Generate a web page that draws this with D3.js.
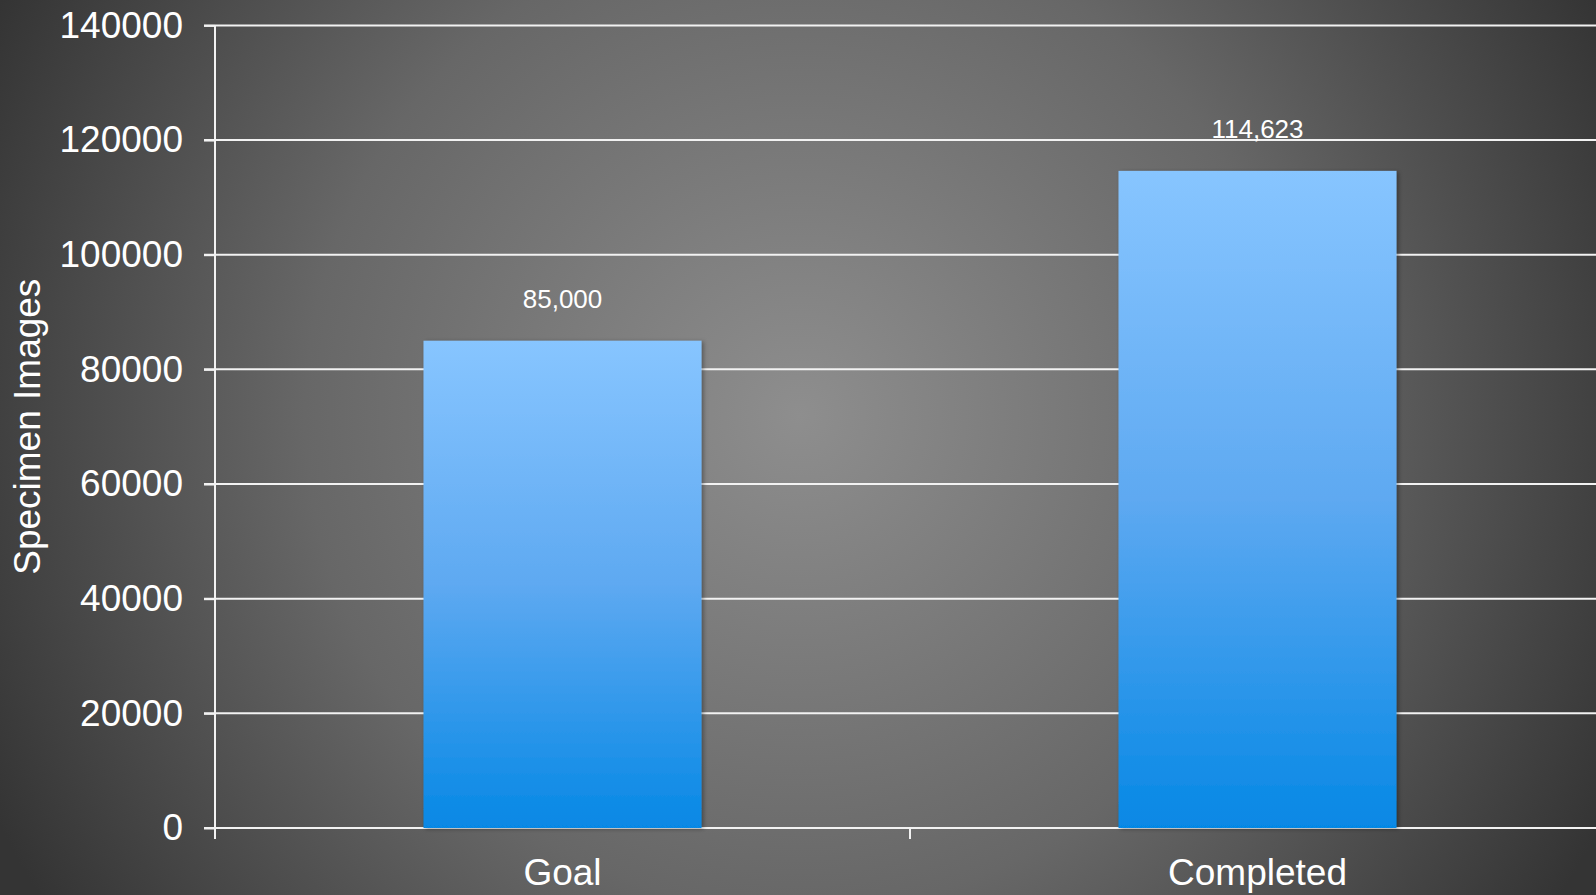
<!DOCTYPE html>
<html>
<head>
<meta charset="utf-8">
<script src="https://cdn.jsdelivr.net/npm/d3@7"></script>
<style>
  html, body { margin: 0; padding: 0; overflow: hidden; background: #555; }
  svg { display: block; }
</style>
</head>
<body>
<div id="chart"></div>
<script>
var width = 1596;
var height = 895;

// data
var categories = ["Goal", "Completed"];
var values = [85000, 114623];
var yTicks = [0, 20000, 40000, 60000, 80000, 100000, 120000, 140000];
var yTitle = "Specimen Images";

// plot box (note: "top" is taken by window.top, so use plotTop)
var plotLeft = 215, plotTop = 25.4, plotBottom = 828, plotRight = 1605;

var svg = d3.select("#chart")
  .append("svg")
  .attr("width", width)
  .attr("height", height)
  .style("font-family", "'Liberation Sans', Arial, sans-serif");

var defs = svg.append("defs");

// background radial shading
var bg = defs.append("radialGradient")
  .attr("id", "bg")
  .attr("gradientUnits", "userSpaceOnUse")
  .attr("cx", 800).attr("cy", 415).attr("r", 900);
bg.append("stop").attr("offset", "0%").attr("stop-color", "#8e8e8e");
bg.append("stop").attr("offset", "55%").attr("stop-color", "#676767");
bg.append("stop").attr("offset", "100%").attr("stop-color", "#343434");

var barGrad = defs.append("linearGradient")
  .attr("id", "bar")
  .attr("x1", 0).attr("y1", 0).attr("x2", 0).attr("y2", 1);
barGrad.append("stop").attr("offset", "0%").attr("stop-color", "#87c5ff");
barGrad.append("stop").attr("offset", "50%").attr("stop-color", "#5ea9f1");
barGrad.append("stop").attr("offset", "100%").attr("stop-color", "#0688e5");

var shadow = defs.append("filter")
  .attr("id", "shadow")
  .attr("x", "-5%").attr("y", "-5%").attr("width", "115%").attr("height", "115%");
shadow.append("feDropShadow")
  .attr("dx", 2).attr("dy", 1)
  .attr("stdDeviation", 2)
  .attr("flood-color", "#000")
  .attr("flood-opacity", 0.35);

svg.append("rect")
  .attr("width", width)
  .attr("height", height)
  .attr("fill", "url(#bg)");

var y = d3.scaleLinear().domain([0, 140000]).range([plotBottom, plotTop]);
var x = d3.scaleBand()
  .domain(categories)
  .range([plotLeft, plotRight])
  .paddingInner(0.6)
  .paddingOuter(0.3);

// gridlines
svg.append("g")
  .selectAll("line")
  .data(yTicks)
  .enter().append("line")
  .attr("x1", plotLeft - 11)
  .attr("x2", width)
  .attr("y1", d => y(d))
  .attr("y2", d => y(d))
  .attr("stroke", "#f2f2f2")
  .attr("stroke-width", 2);

// bars
svg.append("g")
  .selectAll("rect")
  .data(values)
  .enter().append("rect")
  .attr("x", (d, i) => x(categories[i]))
  .attr("y", d => y(d))
  .attr("width", x.bandwidth())
  .attr("height", d => plotBottom - y(d))
  .attr("fill", "url(#bar)")
  .attr("filter", "url(#shadow)");

// value labels
svg.append("g")
  .selectAll("text")
  .data(values)
  .enter().append("text")
  .attr("x", (d, i) => x(categories[i]) + x.bandwidth() / 2)
  .attr("y", d => y(d) - 33)
  .attr("text-anchor", "middle")
  .attr("fill", "#ffffff")
  .style("font-size", "26px")
  .text(d => d3.format(",")(d));

// y axis
var yAxis = svg.append("g")
  .attr("transform", "translate(" + plotLeft + ",0)")
  .call(d3.axisLeft(y).tickValues(yTicks).tickSize(11).tickPadding(21).tickFormat(d3.format("d")));
yAxis.select(".domain").remove();
yAxis.selectAll("line").attr("stroke", "#f2f2f2").attr("stroke-width", 2);
yAxis.selectAll("text")
  .attr("fill", "#ffffff")
  .style("font-size", "37px")
  .style("font-family", "'Liberation Sans', Arial, sans-serif");

svg.append("line")
  .attr("x1", plotLeft).attr("x2", plotLeft)
  .attr("y1", plotTop).attr("y2", plotBottom + 11)
  .attr("stroke", "#f2f2f2")
  .attr("stroke-width", 2);

// x axis: ticks on the band boundaries
var step = x.step();
var bounds = d3.range(categories.length + 1).map(i => plotLeft + i * step);
svg.append("g")
  .selectAll("line")
  .data(bounds)
  .enter().append("line")
  .attr("x1", d => d).attr("x2", d => d)
  .attr("y1", plotBottom).attr("y2", plotBottom + 11)
  .attr("stroke", "#f2f2f2")
  .attr("stroke-width", 2);

svg.append("g")
  .selectAll("text")
  .data(categories)
  .enter().append("text")
  .attr("x", d => x(d) + x.bandwidth() / 2)
  .attr("y", plotBottom + 57)
  .attr("text-anchor", "middle")
  .attr("fill", "#ffffff")
  .style("font-size", "37px")
  .text(d => d);

// y title
svg.append("text")
  .attr("transform", "translate(40," + ((plotTop + plotBottom) / 2) + ") rotate(-90)")
  .attr("text-anchor", "middle")
  .attr("fill", "#ffffff")
  .style("font-size", "37px")
  .text(yTitle);
</script>
</body>
</html>
